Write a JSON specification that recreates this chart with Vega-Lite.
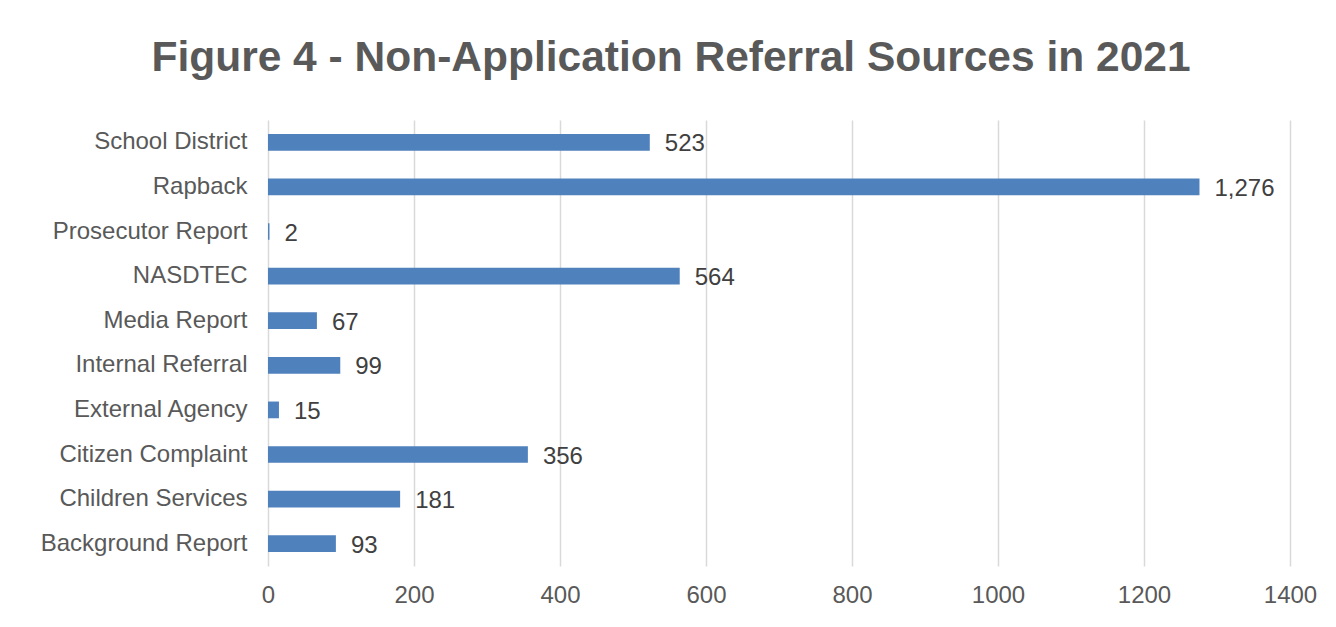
{
  "$schema": "https://vega.github.io/schema/vega-lite/v6.json",
  "width": 1022,
  "height": 446,
  "autosize": {"type": "none"},
  "padding": {"left": 268, "top": 120, "right": 46, "bottom": 61},
  "background": "white",
  "title": {
    "text": "Figure 4 - Non-Application Referral Sources in 2021",
    "font": "Liberation Sans",
    "fontSize": 42.5,
    "fontWeight": "bold",
    "color": "#595959",
    "anchor": "middle",
    "dx": -108,
    "offset": 41
  },
  "data": {
    "values": [
      {"source": "School District", "count": 523},
      {"source": "Rapback", "count": 1276},
      {"source": "Prosecutor Report", "count": 2},
      {"source": "NASDTEC", "count": 564},
      {"source": "Media Report", "count": 67},
      {"source": "Internal Referral", "count": 99},
      {"source": "External Agency", "count": 15},
      {"source": "Citizen Complaint", "count": 356},
      {"source": "Children Services", "count": 181},
      {"source": "Background Report", "count": 93}
    ]
  },
  "encoding": {
    "y": {
      "field": "source",
      "type": "nominal",
      "sort": null,
      "scale": {"paddingInner": 0.625, "paddingOuter": 0.3125},
      "axis": {
        "title": null,
        "domain": false,
        "ticks": false,
        "labelFont": "Liberation Sans",
        "labelFontSize": 24,
        "labelColor": "#595959",
        "labelPadding": 21,
        "labelLimit": 400
      }
    },
    "x": {
      "field": "count",
      "type": "quantitative",
      "scale": {"domain": [0, 1400], "nice": false},
      "axis": {
        "title": null,
        "domain": false,
        "ticks": false,
        "values": [0, 200, 400, 600, 800, 1000, 1200, 1400],
        "format": "d",
        "grid": true,
        "gridColor": "#d9d9d9",
        "gridWidth": 1.5,
        "labelFont": "Liberation Sans",
        "labelFontSize": 24,
        "labelColor": "#595959",
        "labelPadding": 17,
        "labelFlush": false
      }
    }
  },
  "layer": [
    {"mark": {"type": "bar", "color": "#4F81BD"}},
    {
      "mark": {"type": "text", "align": "left", "dx": 15, "font": "Liberation Sans", "fontSize": 24, "color": "#404040", "baseline": "middle", "dy": 2},
      "encoding": {"text": {"field": "count", "type": "quantitative", "format": ","}}
    }
  ],
  "config": {"view": {"stroke": null}}
}
